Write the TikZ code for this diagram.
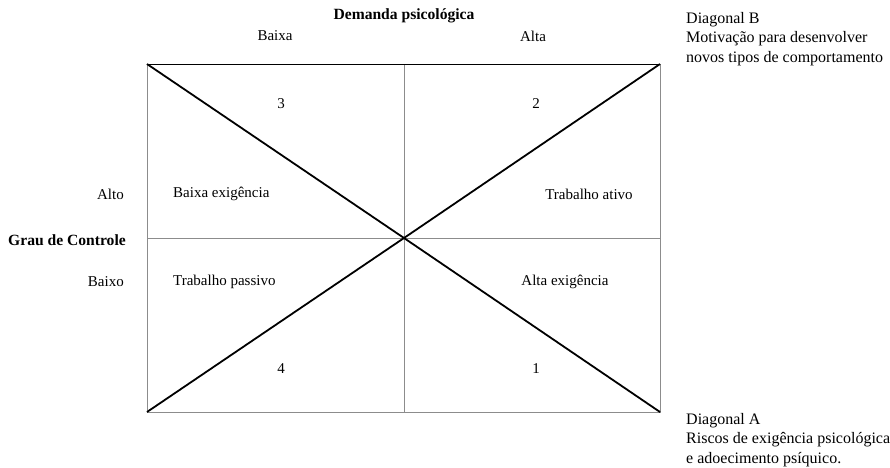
\documentclass[tikz,border=0pt]{standalone}
\usepackage{fontspec}
\setmainfont{Liberation Serif}
\begin{document}
\begin{tikzpicture}[x=1pt,y=-1pt,
  lbl/.style={inner sep=0pt,font=\fontsize{15}{17}\selectfont},
  hd/.style={inner sep=0pt,font=\fontsize{15.6}{17}\selectfont\bfseries},
  note/.style={inner sep=0pt,anchor=west,align=left,font=\fontsize{16}{19.5}\selectfont},
  grid/.style={draw=black!45,line width=0.9pt},
  diag/.style={draw=black,line width=1.8pt}]
\useasboundingbox (0,0) rectangle (890,467);
% frame corners
\coordinate (tl) at (147,64);
\coordinate (tr) at (660,64);
\coordinate (bl) at (147,412);
\coordinate (br) at (660,412);
\coordinate (tm) at (404,64);
\coordinate (bm) at (404,412);
\coordinate (lm) at (147,238);
\coordinate (rm) at (660,238);
\coordinate (c) at (404,238);
% grid
\draw[grid] (tl) -- (bl) -- (br) -- (tr);
\draw[grid] (tm) -- (bm);
\draw[grid] (lm) -- (rm);
\draw[draw=black,line width=1pt] (tl) -- (tr);
% diagonals
\draw[diag] (tl) -- (c) -- (br);
\draw[diag] (bl) -- (c) -- (tr);
% headings
\node[hd] (dem) at (404,16) {Demanda psicológica};
\node[lbl] (baixa) at (275,36) {Baixa};
\node[lbl] (alta) at (533,36) {Alta};
\node[hd,anchor=west] (grau) at (8,240) {Grau de Controle};
\node[lbl,anchor=east] (alto) at (124,194) {Alto};
\node[lbl,anchor=east] (baixo) at (124,282) {Baixo};
% quadrant texts
\node[lbl] (n3) at (281,104) {3};
\node[lbl] (n2) at (536,104) {2};
\node[lbl] (n4) at (281,369) {4};
\node[lbl] (n1) at (536,369) {1};
\node[lbl,anchor=west] (be) at (173,194) {Baixa exigência};
\node[lbl] (ta) at (589,194) {Trabalho ativo};
\node[lbl,anchor=west] (tp) at (173,282) {Trabalho passivo};
\node[lbl] (ae) at (565,282) {Alta exigência};
% diagonal notes
\node[note] (db) at (686,39) {Diagonal B\\Motivação para desenvolver\\novos tipos de comportamento};
\node[note] (da) at (686,440) {Diagonal A\\Riscos de exigência psicológica\\e adoecimento psíquico.};
\end{tikzpicture}
\end{document}
